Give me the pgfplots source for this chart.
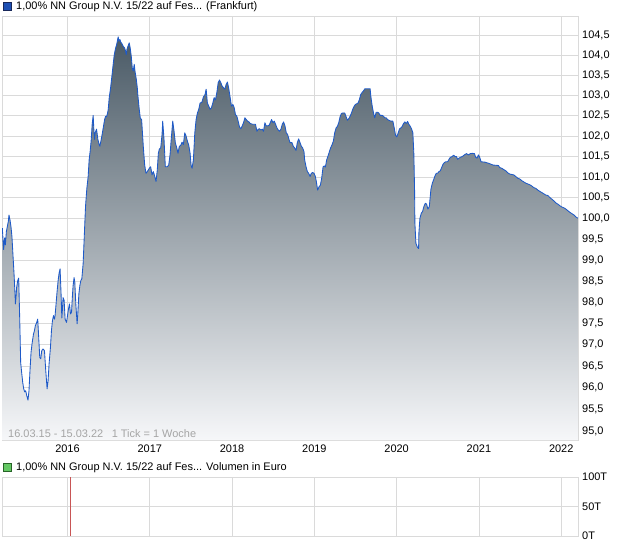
\documentclass[border=0pt]{standalone}
\usepackage{fontspec}
\setmainfont{Liberation Sans}
\usepackage{pgfplots}
\usepackage{pgfplotstable}
\pgfplotsset{compat=1.18}
\definecolor{gridgray}{RGB}{218,218,218}
\definecolor{linecol}{RGB}{30,90,200}
\definecolor{filltop}{RGB}{74,90,102}
\definecolor{fillmid}{RGB}{152,162,169}
\definecolor{fillbot}{RGB}{246,247,249}
\definecolor{legblue}{RGB}{30,80,180}
\definecolor{legblueb}{RGB}{25,40,90}
\definecolor{leggreen}{RGB}{100,200,100}
\definecolor{leggreenb}{RGB}{40,100,40}
\definecolor{spikered}{RGB}{200,85,85}
\definecolor{infogray}{RGB}{165,165,165}

\pgfplotstableread{
x y
2015.208 99.76
2015.224 99.25
2015.236 99.53
2015.245 99.36
2015.257 99.68
2015.269 99.80
2015.281 99.93
2015.289 100.08
2015.301 99.96
2015.313 99.80
2015.325 99.56
2015.337 99.13
2015.350 98.68
2015.362 98.20
2015.367 97.96
2015.374 98.11
2015.382 98.35
2015.395 98.51
2015.407 98.57
2015.419 97.63
2015.431 96.58
2015.443 96.35
2015.456 96.12
2015.468 95.97
2015.480 95.90
2015.492 95.93
2015.504 95.82
2015.520 95.71
2015.532 95.93
2015.544 96.39
2015.557 96.82
2015.569 97.02
2015.586 97.24
2015.598 97.33
2015.610 97.45
2015.622 97.50
2015.638 97.60
2015.650 97.17
2015.663 96.70
2015.675 96.67
2015.687 96.86
2015.703 96.90
2015.720 96.86
2015.736 96.39
2015.752 95.97
2015.764 96.16
2015.776 96.55
2015.793 96.94
2015.805 97.33
2015.817 97.56
2015.830 97.68
2015.842 97.60
2015.849 97.68
2015.861 97.96
2015.873 98.24
2015.886 98.51
2015.898 98.69
2015.910 98.79
2015.922 98.19
2015.931 97.63
2015.939 97.84
2015.946 98.11
2015.959 98.04
2015.971 97.60
2015.988 97.52
2016.000 97.68
2016.012 97.84
2016.024 97.96
2016.037 97.72
2016.049 97.76
2016.061 98.19
2016.068 98.39
2016.080 98.58
2016.089 98.47
2016.101 97.96
2016.117 97.49
2016.125 97.72
2016.138 98.19
2016.150 98.39
2016.162 98.51
2016.174 98.55
2016.190 98.91
2016.207 99.72
2016.219 100.28
2016.235 100.72
2016.251 101.01
2016.263 101.42
2016.275 101.62
2016.287 101.88
2016.300 102.29
2016.312 102.51
2016.320 102.17
2016.329 101.92
2016.336 102.08
2016.353 102.17
2016.369 101.92
2016.385 101.79
2016.393 101.75
2016.406 101.88
2016.421 102.04
2016.434 102.20
2016.451 102.41
2016.463 102.49
2016.475 102.48
2016.487 102.57
2016.495 102.66
2016.507 102.95
2016.524 103.20
2016.540 103.49
2016.555 103.78
2016.568 104.02
2016.585 104.19
2016.597 104.27
2016.609 104.40
2016.616 104.47
2016.625 104.36
2016.637 104.40
2016.649 104.33
2016.661 104.30
2016.677 104.23
2016.694 104.19
2016.706 104.11
2016.714 104.02
2016.722 104.15
2016.734 104.23
2016.750 104.32
2016.762 104.19
2016.775 103.98
2016.787 103.69
2016.799 103.61
2016.811 103.78
2016.820 103.61
2016.836 103.41
2016.848 103.20
2016.856 102.99
2016.872 102.66
2016.884 102.45
2016.901 102.40
2016.921 101.75
2016.938 101.29
2016.954 101.09
2016.970 101.13
2016.994 101.21
2017.011 101.25
2017.027 101.05
2017.043 101.13
2017.060 101.02
2017.076 100.89
2017.091 101.17
2017.104 101.58
2017.116 101.68
2017.133 101.71
2017.149 102.04
2017.157 102.37
2017.173 101.92
2017.189 101.25
2017.213 101.25
2017.230 101.29
2017.246 101.54
2017.262 101.96
2017.279 102.37
2017.295 102.12
2017.311 101.83
2017.328 101.71
2017.343 101.58
2017.359 101.75
2017.376 101.77
2017.392 101.85
2017.408 101.79
2017.425 102.08
2017.441 102.00
2017.457 101.88
2017.474 101.77
2017.490 101.58
2017.502 101.29
2017.514 101.21
2017.530 101.42
2017.547 102.08
2017.563 102.41
2017.579 102.57
2017.596 102.67
2017.611 102.82
2017.632 102.83
2017.652 102.97
2017.672 103.03
2017.685 103.16
2017.700 102.82
2017.717 102.74
2017.733 102.66
2017.749 102.70
2017.766 102.82
2017.782 102.95
2017.798 102.89
2017.815 103.08
2017.831 103.32
2017.847 103.39
2017.864 103.32
2017.879 103.24
2017.895 103.20
2017.912 103.16
2017.928 103.28
2017.944 103.34
2017.961 103.16
2017.977 102.95
2017.993 102.74
2018.010 102.78
2018.026 102.70
2018.041 102.53
2018.058 102.49
2018.074 102.37
2018.090 102.23
2018.107 102.18
2018.123 102.25
2018.139 102.33
2018.156 102.45
2018.172 102.41
2018.188 102.37
2018.205 102.35
2018.220 102.31
2018.253 102.29
2018.285 102.29
2018.302 102.12
2018.318 102.17
2018.334 102.18
2018.351 102.15
2018.367 102.17
2018.382 102.12
2018.399 102.33
2018.415 102.25
2018.448 102.26
2018.464 102.33
2018.480 102.41
2018.497 102.33
2018.513 102.37
2018.529 102.29
2018.546 102.20
2018.561 102.15
2018.577 102.12
2018.594 102.17
2018.610 102.29
2018.626 102.35
2018.643 102.25
2018.659 102.08
2018.675 102.04
2018.692 101.92
2018.704 101.84
2018.728 101.84
2018.744 101.75
2018.760 101.71
2018.777 101.65
2018.793 101.84
2018.809 101.93
2018.826 101.84
2018.842 101.75
2018.857 101.71
2018.874 101.62
2018.882 101.42
2018.899 101.25
2018.915 101.13
2018.931 101.09
2018.948 101.01
2018.963 101.09
2018.979 101.11
2018.996 101.09
2019.012 101.01
2019.024 100.89
2019.040 100.68
2019.057 100.76
2019.073 100.80
2019.089 100.97
2019.106 101.25
2019.122 101.27
2019.134 101.24
2019.150 101.42
2019.167 101.52
2019.183 101.62
2019.198 101.71
2019.216 101.79
2019.231 101.88
2019.247 102.08
2019.264 102.20
2019.280 102.24
2019.296 102.33
2019.313 102.48
2019.329 102.56
2019.345 102.57
2019.369 102.57
2019.386 102.48
2019.402 102.39
2019.418 102.43
2019.435 102.49
2019.451 102.57
2019.466 102.66
2019.484 102.74
2019.499 102.78
2019.515 102.80
2019.532 102.82
2019.548 102.91
2019.564 103.03
2019.581 103.08
2019.597 103.12
2019.613 103.17
2019.637 103.17
2019.678 103.17
2019.686 102.99
2019.703 102.74
2019.719 102.57
2019.734 102.45
2019.751 102.59
2019.767 102.59
2019.783 102.57
2019.800 102.51
2019.825 102.51
2019.840 102.49
2019.856 102.45
2019.873 102.45
2019.889 102.41
2019.905 102.39
2019.929 102.37
2019.954 102.37
2019.971 102.20
2019.987 102.02
2020.002 101.98
2020.019 102.08
2020.035 102.18
2020.051 102.20
2020.068 102.24
2020.084 102.31
2020.100 102.35
2020.117 102.31
2020.133 102.36
2020.149 102.29
2020.166 102.24
2020.181 102.18
2020.197 102.08
2020.209 101.58
2020.218 100.68
2020.222 99.88
2020.234 99.40
2020.251 99.31
2020.267 99.27
2020.270 99.64
2020.283 100.00
2020.300 100.12
2020.315 100.16
2020.331 100.28
2020.348 100.36
2020.364 100.34
2020.380 100.22
2020.397 100.28
2020.417 100.71
2020.434 100.85
2020.449 100.93
2020.465 101.02
2020.482 101.09
2020.498 101.09
2020.514 101.13
2020.531 101.15
2020.547 101.23
2020.563 101.31
2020.580 101.35
2020.596 101.37
2020.620 101.37
2020.636 101.43
2020.653 101.48
2020.677 101.50
2020.693 101.53
2020.709 101.50
2020.726 101.50
2020.742 101.43
2020.758 101.46
2020.775 101.48
2020.799 101.50
2020.823 101.54
2020.848 101.57
2020.872 101.54
2020.896 101.57
2020.921 101.58
2020.945 101.57
2020.961 101.48
2020.977 101.46
2020.994 101.54
2021.010 101.48
2021.026 101.37
2021.074 101.36
2021.123 101.33
2021.172 101.29
2021.237 101.28
2021.253 101.23
2021.278 101.21
2021.302 101.18
2021.326 101.15
2021.351 101.10
2021.375 101.07
2021.399 101.06
2021.424 101.05
2021.448 101.01
2021.472 100.97
2021.497 100.95
2021.521 100.91
2021.546 100.88
2021.570 100.85
2021.594 100.83
2021.619 100.81
2021.643 100.78
2021.667 100.74
2021.692 100.72
2021.716 100.68
2021.740 100.65
2021.765 100.62
2021.789 100.59
2021.814 100.56
2021.838 100.55
2021.862 100.50
2021.887 100.46
2021.911 100.42
2021.935 100.37
2021.960 100.34
2021.984 100.30
2022.008 100.27
2022.033 100.25
2022.057 100.22
2022.081 100.18
2022.106 100.14
2022.130 100.11
2022.155 100.08
2022.179 100.03
2022.203 100.00
}\pricedata

\pgfplotstableread{
x v
2016.04 100
}\voldata

\begin{document}
\begin{tikzpicture}
\useasboundingbox (0,0) rectangle (620bp,-546bp);
\pgfplotsset{
  chartbase/.style={
    scale only axis,
    width=576bp,
    xmin=2015.204, xmax=2022.204,
    axis line style={draw=gridgray, line width=0.8bp},
    grid=major,
    major grid style={draw=gridgray, line width=0.8bp},
    tick style={draw=none},
    major tick length=0pt,
    tick label style={font=\fontsize{11}{13}\selectfont},
    /pgf/number format/assume math mode=true,
    yticklabel pos=right,
    yticklabel style={anchor=west, inner sep=0pt, xshift=4bp},
    clip=true,
  }
}
% title of main panel
\draw[fill=legblue, draw=legblueb, line width=0.6bp] (3.5bp,-2.5bp) rectangle (11.5bp,-10.5bp);
\node[anchor=west, inner sep=0pt, font=\fontsize{11}{13}\selectfont] at (16bp,-7bp) {1,00\% NN Group N.V. 15/22 auf Fes... (Frankfurt)};

\begin{axis}[chartbase,
  at={(2bp,-16bp)}, anchor=north west,
  height=424bp,
  y coord trafo/.code={\pgfmathparse{ln(#1)}},
  y coord inv trafo/.code={\pgfmathparse{exp(#1)}},
  ymin=94.8, ymax=105,
  ytick={95,95.5,96,96.5,97,97.5,98,98.5,99,99.5,100,100.5,101,101.5,102,102.5,103,103.5,104,104.5},
  yticklabels={{95,0},{95,5},{96,0},{96,5},{97,0},{97,5},{98,0},{98,5},{99,0},{99,5},{100,0},{100,5},{101,0},{101,5},{102,0},{102,5},{103,0},{103,5},{104,0},{104,5}},
  xtick={2016,2017,2018,2019,2020,2021,2022},
  xticklabels={2016,2017,2018,2019,2020,2021,2022},
  xticklabel style={inner sep=0pt, yshift=-4.5bp},
]
\addplot[draw=none, top color=filltop, middle color=fillmid, bottom color=fillbot] table[x=x,y=y] {\pricedata} -- (axis cs:2022.203,94.8) -- (axis cs:2015.208,94.8) -- cycle;
\addplot[linecol, line width=0.85bp, line join=round] table[x=x,y=y] {\pricedata};
\end{axis}

\node[anchor=west, inner sep=0pt, text=infogray, font=\fontsize{11}{13}\selectfont] at (8bp,-434bp) {16.03.15 - 15.03.22\enspace\ 1 Tick = 1 Woche};

% volume panel title
\draw[fill=leggreen, draw=leggreenb, line width=0.6bp] (3.5bp,-463.5bp) rectangle (11.5bp,-471.5bp);
\node[anchor=west, inner sep=0pt, font=\fontsize{11}{13}\selectfont] at (16bp,-468bp) {1,00\% NN Group N.V. 15/22 auf Fes... Volumen in Euro};

\begin{axis}[chartbase,
  at={(2bp,-477bp)}, anchor=north west,
  height=59bp,
  ymin=0, ymax=100,
  ytick={0,50,100},
  yticklabels={0T,50T,100T},
  xtick={2016,2017,2018,2019,2020,2021,2022},
  xticklabels={},
]
\addplot[ycomb, draw=spikered, line width=0.7bp, mark=none] table[x=x,y=v] {\voldata};
\end{axis}
\end{tikzpicture}
\end{document}
